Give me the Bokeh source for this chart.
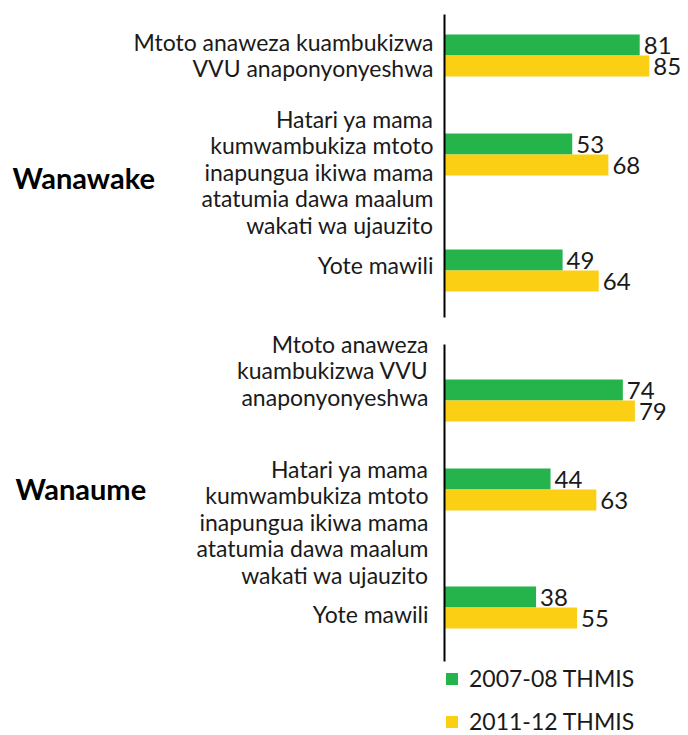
from bokeh.plotting import figure
from bokeh.models import Range1d, ColumnDataSource, Legend, LegendItem
from bokeh.core.properties import value
from bokeh.embed import file_html
from bokeh.resources import INLINE

# ---------------- data ----------------
groups = ["Wanawake", "Wanaume"]
category_lines = [
    ["Mtoto anaweza kuambukizwa", "VVU anaponyonyeshwa"],
    ["Hatari ya mama", "kumwambukiza mtoto", "inapungua ikiwa mama",
     "atatumia dawa maalum", "wakati wa ujauzito"],
    ["Yote mawili"],
    ["Mtoto anaweza", "kuambukizwa VVU", "anaponyonyeshwa"],
    ["Hatari ya mama", "kumwambukiza mtoto", "inapungua ikiwa mama",
     "atatumia dawa maalum", "wakati wa ujauzito"],
    ["Yote mawili"],
]
category_group = [0, 0, 0, 1, 1, 1]
series_names = ["2007-08 THMIS", "2011-12 THMIS"]
values_2007 = [81, 53, 49, 74, 44, 38]
values_2011 = [85, 68, 64, 79, 63, 55]

# ---------------- layout / style ----------------
colors = ["#25b34b", "#fbd014"]
text_color = "#1a1a1a"
FONT = "Lato"
W, H = 688, 735
ZERO_PX = 444          # screen x of value 0 inside the plot
PX_PER_UNIT = 2.41
pair_y = [55, 154, 270, 400, 489, 607]      # boundary between the two bars
bar_h = 21
label_first_baseline = [41, 118, 264, 343, 468, 613]
line_gap = 26.5
label_offset = [-11, -11, -11, -16, -16, -16]
group_label_y = [177, 488]
group_label_offset = [-432, -429]
axis_spans = [(14, 317), (344, 661)]

p = figure(width=W, height=H, output_backend="svg", toolbar_location=None,
           x_axis_type=None, y_axis_type=None, min_border=0,
           x_range=Range1d(-ZERO_PX / PX_PER_UNIT, (W - ZERO_PX) / PX_PER_UNIT),
           y_range=Range1d(H, 0))
p.outline_line_color = None
p.background_fill_color = "white"

# bars
y_green = [y - bar_h / 2 for y in pair_y]
y_yellow = [y + bar_h / 2 for y in pair_y]
src_a = ColumnDataSource(dict(y=y_green, v=values_2007, t=[str(v) for v in values_2007]))
src_b = ColumnDataSource(dict(y=y_yellow, v=values_2011, t=[str(v) for v in values_2011]))
r_a = p.hbar(y="y", left=0, right="v", height=bar_h, source=src_a,
             fill_color=colors[0], line_color=None)
r_b = p.hbar(y="y", left=0, right="v", height=bar_h, source=src_b,
             fill_color=colors[1], line_color=None)

# value labels
for src in (src_a, src_b):
    p.text(x="v", y="y", text="t", source=src, x_offset=4,
           text_baseline="middle", text_align="left",
           text_font=value(FONT), text_font_size="24px", text_color=text_color)

# vertical axis lines per group
p.segment(x0=[0, 0], x1=[0, 0], y0=[a for a, b in axis_spans],
          y1=[b for a, b in axis_spans], line_color="black", line_width=2)

# category labels
for i, lines in enumerate(category_lines):
    ys = [label_first_baseline[i] + k * line_gap for k in range(len(lines))]
    p.text(x=[0] * len(lines), y=ys, text=lines, x_offset=label_offset[i],
           text_align="right", text_baseline="alphabetic",
           text_font=value(FONT), text_font_size="23px", text_color=text_color)

# group labels
for g, name in enumerate(groups):
    p.text(x=[0], y=[group_label_y[g]], text=[name], x_offset=group_label_offset[g],
           text_align="left", text_baseline="alphabetic",
           text_font=value(FONT), text_font_size="29px", text_font_style="bold",
           text_color="black")

legend = Legend(items=[LegendItem(label=series_names[0], renderers=[r_a]),
                       LegendItem(label=series_names[1], renderers=[r_b])],
                location=(ZERO_PX, 0), orientation="vertical",
                glyph_width=15, glyph_height=15, label_standoff=10,
                spacing=15, padding=0, margin=0,
                border_line_color=None, background_fill_alpha=0,
                label_text_font=FONT, label_text_font_size="23px",
                label_text_color=text_color)
p.add_layout(legend)

open("out.html", "w").write(file_html(p, INLINE))
